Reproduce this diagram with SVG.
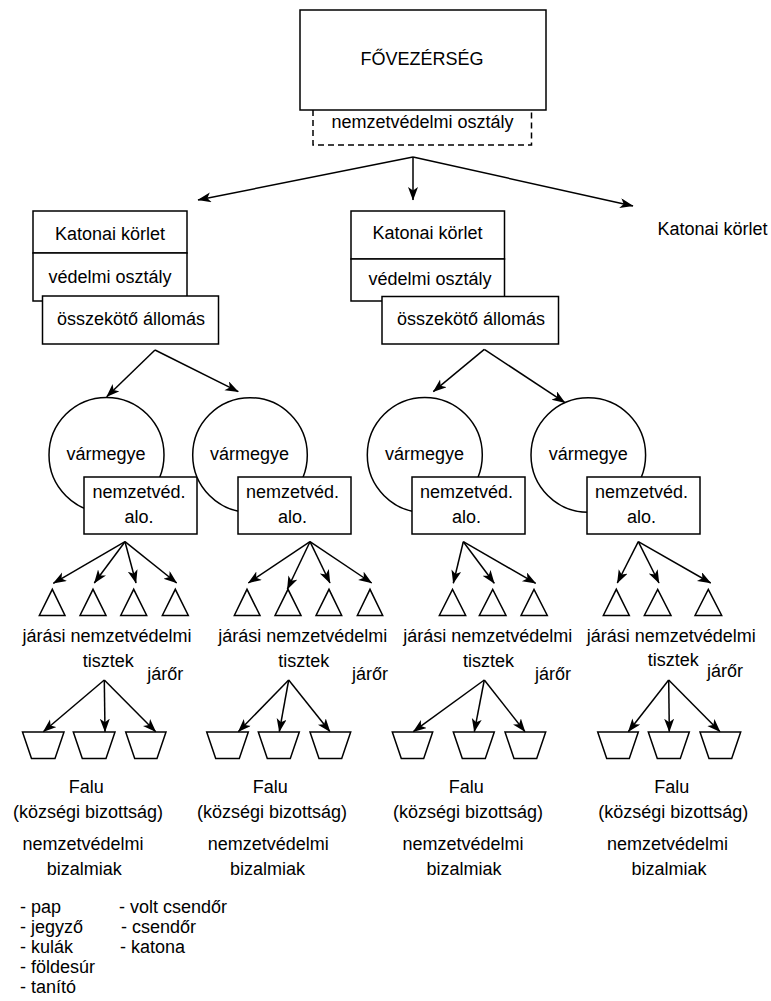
<svg xmlns="http://www.w3.org/2000/svg" width="771" height="1001" viewBox="0 0 771 1001">
<defs>
<style>
text{font-family:"Liberation Sans",Arial,sans-serif;font-size:18px;fill:#000}
.m{text-anchor:middle}
.b{fill:#fff;stroke:#000;stroke-width:1.5}
.c line{stroke:#000;stroke-width:1.5;marker-end:url(#ah)}
</style>
<marker id="ah" markerUnits="userSpaceOnUse" markerWidth="16" markerHeight="12" refX="13" refY="5" orient="auto">
<path d="M0,0 L13.5,5 L0,10 L3.5,5 Z" fill="#000"/>
</marker>
</defs>
<rect width="771" height="1001" fill="#fff"/>

<g id="fovezerseg">
<path d="M313,110 V145 H531.5 V110" fill="none" stroke="#000" stroke-width="1.5" stroke-dasharray="6,4"/>
<rect class="b" x="300" y="10" width="246" height="100"/>
<text class="m" x="422" y="65">FŐVEZÉRSÉG</text>
<text class="m" x="422.5" y="128">nemzetvédelmi osztály</text>
</g>

<g id="korlet1">
<rect class="b" x="33" y="211" width="154" height="42"/>
<rect class="b" x="33" y="253" width="154" height="48"/>
<rect class="b" x="42.5" y="296" width="176" height="48"/>
<text class="m" x="110" y="240">Katonai körlet</text>
<text class="m" x="110" y="283">védelmi osztály</text>
<text class="m" x="131" y="325">összekötő állomás</text>
</g>
<g id="korlet2">
<rect class="b" x="351" y="211" width="153.5" height="48"/>
<rect class="b" x="351" y="259" width="153.5" height="42"/>
<rect class="b" x="382" y="296.5" width="176.5" height="47.5"/>
<text class="m" x="427.5" y="239">Katonai körlet</text>
<text class="m" x="430" y="285">védelmi osztály</text>
<text class="m" x="471" y="325">összekötő állomás</text>
</g>
<g id="korlet3">
<text class="m" x="712.5" y="235">Katonai körlet</text>
</g>

<g id="megye1">
<circle class="b" cx="106.5" cy="455" r="57.5"/>
<text class="m" x="106" y="460">vármegye</text>
<rect class="b" x="84" y="477" width="113" height="57"/>
<text class="m" x="139" y="498">nemzetvéd.</text>
<text class="m" x="139" y="523">alo.</text>
</g>
<g id="megye2">
<circle class="b" cx="250" cy="455" r="57.3"/>
<text class="m" x="249.5" y="460">vármegye</text>
<rect class="b" x="238" y="477" width="113" height="57"/>
<text class="m" x="292.5" y="498">nemzetvéd.</text>
<text class="m" x="292.5" y="523">alo.</text>
</g>
<g id="megye3">
<circle class="b" cx="424.8" cy="455" r="57.5"/>
<text class="m" x="424.5" y="460">vármegye</text>
<rect class="b" x="412" y="477" width="113" height="57"/>
<text class="m" x="466.5" y="498">nemzetvéd.</text>
<text class="m" x="466.5" y="523">alo.</text>
</g>
<g id="megye4">
<circle class="b" cx="588.3" cy="455" r="57.3"/>
<text class="m" x="588.2" y="460">vármegye</text>
<rect class="b" x="587" y="477" width="113" height="57"/>
<text class="m" x="641.5" y="498">nemzetvéd.</text>
<text class="m" x="641.5" y="523">alo.</text>
</g>

<g id="jaras1">
<path class="b" d="M39.3,615.5 L52.3,589.3 L65,615.5 Z M80,615.5 L93,589.3 L106,615.5 Z M120.7,615.5 L133.7,589.3 L146.7,615.5 Z M162.3,615.5 L175.3,589.3 L188.3,615.5 Z"/>
<text class="m" x="107" y="641.5">járási nemzetvédelmi</text>
<text class="m" x="108.3" y="666.5">tisztek</text>
<text class="m" x="165.3" y="680">járőr</text>
</g>
<g id="jaras2">
<path class="b" d="M234.3,615.5 L247,589.3 L260,615.5 Z M275,615.5 L288,589.3 L301,615.5 Z M316,615.5 L329,589.3 L341.7,615.5 Z M357.3,615.5 L370,589.3 L382.7,615.5 Z"/>
<text class="m" x="302.7" y="641.5">járási nemzetvédelmi</text>
<text class="m" x="303.8" y="666.5">tisztek</text>
<text class="m" x="370" y="680">járőr</text>
</g>
<g id="jaras3">
<path class="b" d="M439.3,615.5 L452.5,589.3 L465.7,615.5 Z M479.3,615.5 L492.7,589.3 L506,615.5 Z M521,615.5 L534,589.3 L547.3,615.5 Z"/>
<text class="m" x="487.7" y="641.5">járási nemzetvédelmi</text>
<text class="m" x="488.5" y="666.5">tisztek</text>
<text class="m" x="553" y="680">járőr</text>
</g>
<g id="jaras4">
<path class="b" d="M603.3,615.5 L616.3,589.3 L629.3,615.5 Z M644.3,615.5 L657.7,589.3 L671,615.5 Z M695,615.5 L708.3,589.3 L721.7,615.5 Z"/>
<text class="m" x="671.2" y="641.5">járási nemzetvédelmi</text>
<text class="m" x="673.3" y="666">tisztek</text>
<text class="m" x="725" y="677">járőr</text>
</g>

<g id="falu1">
<path class="b" d="M22.5,732 H64 L55,758.5 H31.5 Z M73.3,732 H115 L106,758.5 H82.3 Z M125.7,732 H166 L157,758.5 H134.7 Z"/>
<text class="m" x="86.3" y="793">Falu</text>
<text class="m" x="88" y="818">(községi bizottság)</text>
<text class="m" x="83" y="850">nemzetvédelmi</text>
<text class="m" x="84.2" y="875">bizalmiak</text>
</g>
<g id="falu2">
<path class="b" d="M206.7,732 H248.3 L239.3,758.5 H215.7 Z M258.3,732 H299.3 L290.3,758.5 H267.3 Z M310,732 H350.7 L341.7,758.5 H319 Z"/>
<text class="m" x="270.3" y="793">Falu</text>
<text class="m" x="272" y="818">(községi bizottság)</text>
<text class="m" x="268.3" y="850">nemzetvédelmi</text>
<text class="m" x="267.5" y="875">bizalmiak</text>
</g>
<g id="falu3">
<path class="b" d="M392.3,732 H432.7 L423.7,758.5 H401.3 Z M453.3,732 H494.3 L485.3,758.5 H462.3 Z M505,732 H545.7 L536.7,758.5 H514 Z"/>
<text class="m" x="466.3" y="793">Falu</text>
<text class="m" x="468" y="818">(községi bizottság)</text>
<text class="m" x="463" y="850">nemzetvédelmi</text>
<text class="m" x="464" y="875">bizalmiak</text>
</g>
<g id="falu4">
<path class="b" d="M597.7,732 H638.3 L629.3,758.5 H606.7 Z M648.3,732 H689.3 L680.3,758.5 H657.3 Z M700,732 H740.7 L731.7,758.5 H709 Z"/>
<text class="m" x="671.7" y="793">Falu</text>
<text class="m" x="673.3" y="818">(községi bizottság)</text>
<text class="m" x="667.5" y="850">nemzetvédelmi</text>
<text class="m" x="669" y="875">bizalmiak</text>
</g>

<g id="lista">
<text x="20" y="913">- pap</text>
<text x="20" y="933">- jegyző</text>
<text x="20" y="953">- kulák</text>
<text x="20" y="973">- földesúr</text>
<text x="20" y="993">- tanító</text>
<text x="119" y="913">- volt csendőr</text>
<text x="121" y="933">- csendőr</text>
<text x="120" y="953">- katona</text>
</g>

<g id="connectors" class="c">
<line x1="413" y1="157" x2="198" y2="200"/>
<line x1="413" y1="157" x2="413" y2="200"/>
<line x1="413" y1="157" x2="633" y2="206"/>
<line x1="155" y1="350" x2="106.7" y2="396.7"/>
<line x1="155" y1="350" x2="238.3" y2="391.7"/>
<line x1="484.3" y1="349.3" x2="433.3" y2="391.7"/>
<line x1="484.3" y1="349.3" x2="565" y2="402.7"/>
<line x1="125" y1="541.7" x2="53.3" y2="583.3"/>
<line x1="125" y1="541.7" x2="94.3" y2="583"/>
<line x1="125" y1="541.7" x2="136" y2="583"/>
<line x1="125" y1="541.7" x2="176.7" y2="583"/>
<line x1="310" y1="541.7" x2="248.3" y2="583"/>
<line x1="310" y1="541.7" x2="287.3" y2="589.3"/>
<line x1="310" y1="541.7" x2="330" y2="583"/>
<line x1="310" y1="541.7" x2="371.7" y2="583"/>
<line x1="463.3" y1="541.7" x2="453.3" y2="583.3"/>
<line x1="463.3" y1="541.7" x2="494.3" y2="583.3"/>
<line x1="463.3" y1="541.7" x2="535.7" y2="583.3"/>
<line x1="638.3" y1="541.7" x2="617.3" y2="583"/>
<line x1="638.3" y1="541.7" x2="659" y2="583"/>
<line x1="638.3" y1="541.7" x2="710.7" y2="583"/>
<line x1="104.3" y1="680" x2="43.3" y2="731.7"/>
<line x1="104.3" y1="680" x2="105" y2="731.7"/>
<line x1="104.3" y1="680" x2="155.7" y2="731.7"/>
<line x1="288.7" y1="680" x2="238.3" y2="731.7"/>
<line x1="288.7" y1="680" x2="279.3" y2="731.7"/>
<line x1="288.7" y1="680" x2="330" y2="731.7"/>
<line x1="484.3" y1="680" x2="413.3" y2="731.7"/>
<line x1="484.3" y1="680" x2="474.3" y2="731.7"/>
<line x1="484.3" y1="680" x2="525" y2="731.7"/>
<line x1="668.7" y1="680" x2="628.3" y2="731.7"/>
<line x1="668.7" y1="680" x2="669.3" y2="731.7"/>
<line x1="668.7" y1="680" x2="720" y2="731.7"/>
</g>
</svg>
